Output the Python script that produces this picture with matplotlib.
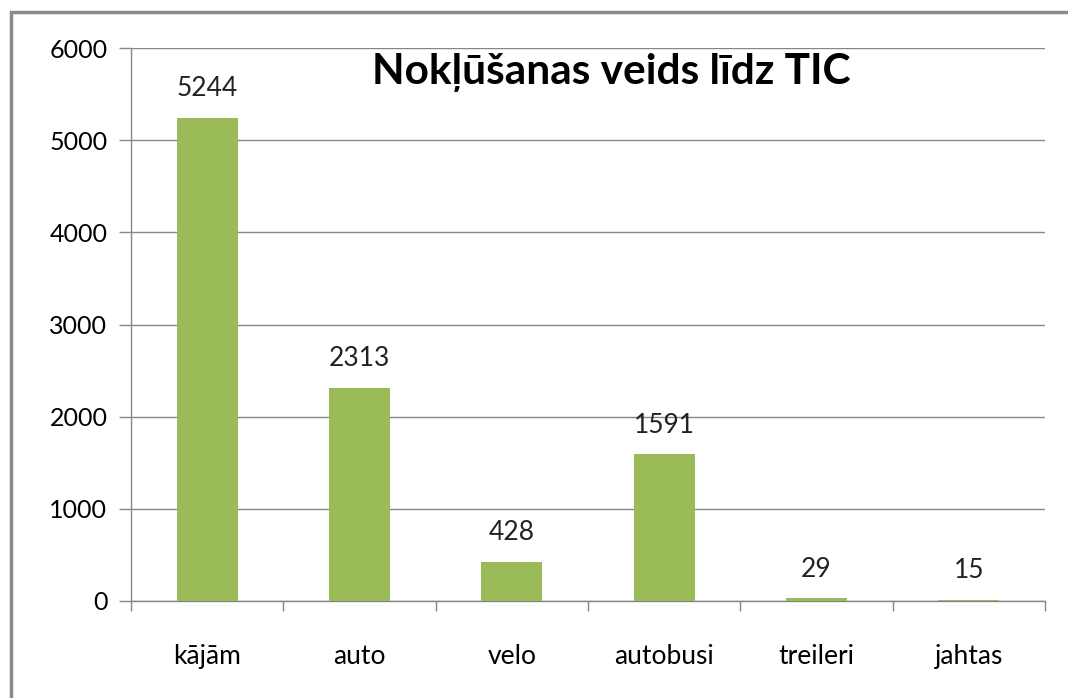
import matplotlib.pyplot as plt
import matplotlib.patches as patches
import numpy as np

# data
categories = ['kājām', 'auto', 'velo', 'autobusi', 'treileri', 'jahtas']
values = [5244, 2313, 428, 1591, 29, 15]
yticks = [0, 1000, 2000, 3000, 4000, 5000, 6000]
title = 'Nokļūšanas veids līdz TIC'

bar_color = '#9BBB59'
grid_color = '#868686'

plt.rcParams['font.family'] = ['Lato', 'DejaVu Sans']

fig = plt.figure(figsize=(10.68, 6.98), dpi=100)
ax = fig.add_axes([131/1068, 1-601/698, (1045-131)/1068, (601-48)/698])

x = np.arange(len(categories))
ax.bar(x, values, width=0.4, color=bar_color, zorder=3)

for xi, v in zip(x, values):
    ax.annotate(str(v), (xi, v), xytext=(0, 12), textcoords='offset points',
                ha='center', va='bottom', fontsize=19, color='#222222')

ax.set_xlim(-0.5, len(categories) - 0.5)
ax.set_ylim(0, 6000)
ax.set_yticks(yticks)
ax.set_yticklabels([str(t) for t in yticks], fontsize=18)
ax.yaxis.grid(True, color=grid_color, linewidth=1)
ax.set_axisbelow(True)

# category labels centred, tick marks between categories
ax.set_xticks(x)
ax.set_xticklabels(categories, fontsize=19)
ax.tick_params(axis='x', length=0, pad=31)
ax.set_xticks(np.arange(-0.5, len(categories)), minor=True)
ax.tick_params(axis='x', which='minor', length=7, color=grid_color, width=1)
ax.tick_params(axis='y', length=9, color=grid_color, width=1, pad=8)

for s in ['top', 'right']:
    ax.spines[s].set_visible(False)
for s in ['left', 'bottom']:
    ax.spines[s].set_color(grid_color)
    ax.spines[s].set_linewidth(1)

ax.text(0.525, 0.955, title, transform=ax.transAxes, ha='center', va='center',
        fontsize=30.5, fontweight='bold')

# outer chart frame (cut off at right and bottom)
frame = patches.Rectangle((11/1068, -0.05), 1.1, 1-12/698+0.05,
                          transform=fig.transFigure, fill=False,
                          edgecolor='#8a8a8a', linewidth=2.5)
fig.patches.append(frame)

fig.savefig('out.png', dpi=100)
